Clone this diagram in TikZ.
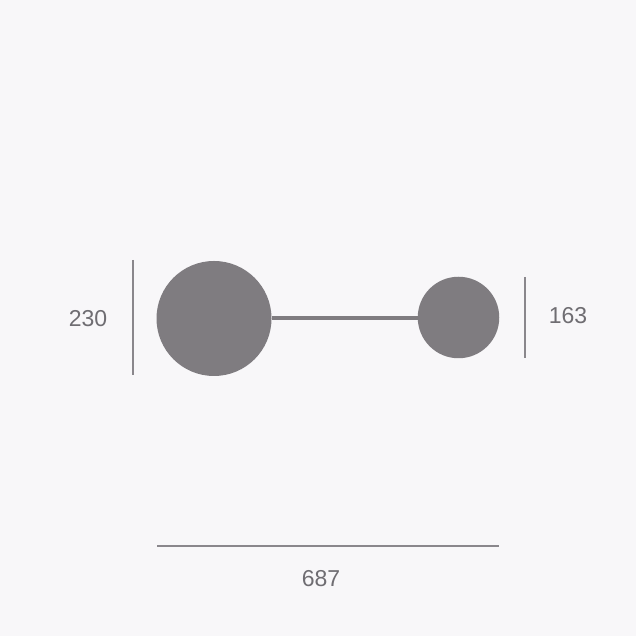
\documentclass[tikz,border=0pt]{standalone}
\usepackage{fontspec}
\setmainfont{Liberation Sans}
\definecolor{bgcol}{HTML}{F8F7F9}
\definecolor{ballcol}{HTML}{7F7C80}
\definecolor{dimcol}{HTML}{8A878C}
\definecolor{txtcol}{HTML}{6F6D72}
\tikzset{
  ball/.style={circle,fill=ballcol,inner sep=0pt},
  dimline/.style={draw=dimcol,line width=2pt},
  dimtext/.style={text=txtcol,font=\fontsize{23}{23}\selectfont}
}
\begin{document}
\begin{tikzpicture}[x=1pt,y=1pt]
\fill[bgcol] (0,0) rectangle (636,636);
\node[ball,minimum size=115pt] (big) at (214,317.5) {};
\node[ball,minimum size=81.5pt] (small) at (458.5,318.5) {};
\draw[ballcol,line width=4pt] (big.east |- 0,318) -- (small.west |- 0,318);
\draw[dimline] (133,376) -- (133,261);
\draw[dimline] (525,359) -- (525,278);
\draw[dimline] (157,90) -- (499,90);
\node[dimtext] (wbig) at (88,317) {230};
\node[dimtext] (wsmall) at (568,320) {163};
\node[dimtext] (len) at (321,57) {687};
\end{tikzpicture}
\end{document}
